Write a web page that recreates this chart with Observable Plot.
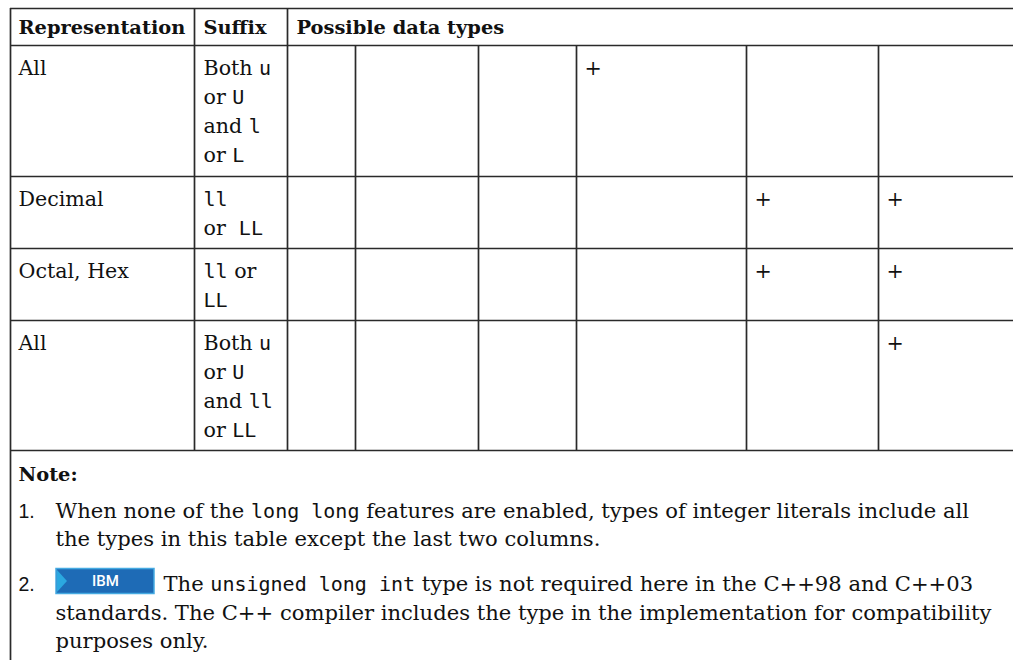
<!DOCTYPE html>
<html><head><meta charset="utf-8">
<script src="https://cdn.jsdelivr.net/npm/d3@7"></script>
<script src="https://cdn.jsdelivr.net/npm/@observablehq/plot@0.6"></script>
<style>body{margin:0;background:#fff}</style>
</head><body><div id="chart"></div>
<script>
// ---------- data ----------
const headers = ["Representation", "Suffix", "Possible data types"];
const representations = ["All", "Decimal", "Octal, Hex", "All"];
// backticks mark monospace code
const suffixes = [
  ["Both `u`", "or `U`", "and `l`", "or `L`"],
  ["`ll`", "or  `LL`"],
  ["`ll` or", "`LL`"],
  ["Both `u`", "or `U`", "and `ll`", "or `LL`"]
];
const typeColumnCount = 6;
const plusColumns = [[3], [4, 5], [4, 5], [5]];
const plusSymbol = "+";
const noteTitle = "Note:";
const noteNumbers = ["1.", "2."];
const badgeLabel = "IBM";
const noteLines = [
  ["When none of the `long long` features are enabled, types of integer literals include all",
   "the types in this table except the last two columns."],
  ["[badge]The `unsigned long int` type is not required here in the C++98 and C++03",
   "standards. The C++ compiler includes the type in the implementation for compatibility",
   "purposes only."]
];

// ---------- layout ----------
const W = 1013, H = 660;
const colEdges = [10, 194, 287, 355, 478, 576, 746, 878];
const rowEdges = [8, 45, 176, 248, 320, 450];
const FS_CELL = 20.6, FS_NOTE = 21.1, FS_HEAD = 19.4, FS_MONO = 20;
const LINE = 29, PAD = 8;
const SERIF = "DejaVu Serif", MONO = "DejaVu Sans Mono", SANS = "Liberation Sans";
const INK = "#111", RULE = "#2a2a2a";

const ctx = document.createElement("canvas").getContext("2d");
function measure(t, fam, wt, size) { ctx.font = `${wt} ${size}px "${fam}"`; return ctx.measureText(t).width; }

const segs = [];
function addRich(str, x0, y, size, weight = "normal") {
  let x = x0;
  str.split("`").forEach((part, i) => {
    const fam = i % 2 ? MONO : SERIF;
    const sz = i % 2 ? FS_MONO : size;
    const lead = part.match(/^\s*/)[0];
    x += measure(lead, fam, weight, sz);
    const body = part.slice(lead.length);
    if (body) segs.push({text: body, x, y, fam, weight, size: sz});
    x += measure(body, fam, weight, sz);
  });
  return x;
}

// header
const headerBase = rowEdges[0] + 25;
headers.forEach((h, i) => addRich(h, colEdges[i] + PAD + (i ? 1 : 0), headerBase, FS_HEAD, "bold"));

// body rows
representations.forEach((rep, r) => {
  const top = rowEdges[r + 1];
  addRich(rep, colEdges[0] + PAD, top + LINE, FS_CELL);
  suffixes[r].forEach((ln, k) => addRich(ln, colEdges[1] + PAD + 1, top + LINE + k * LINE, FS_CELL));
  plusColumns[r].forEach(c => addRich(plusSymbol, colEdges[2 + c] + PAD, top + LINE, FS_CELL));
});

// notes
const noteTop = rowEdges[rowEdges.length - 1];
addRich(noteTitle, colEdges[0] + PAD, noteTop + 30, FS_HEAD, "bold");
const numbers = [];
const badges = [];
let base = noteTop + 67;
noteLines.forEach((lines, i) => {
  numbers.push({text: noteNumbers[i], x: colEdges[0] + PAD, y: base});
  lines.forEach((ln, k) => {
    let x = colEdges[0] + 45;
    if (ln.startsWith("[badge]")) {
      badges.push({x1: x + 1, x2: x + 99, y1: base - 22, y2: base + 3, label: badgeLabel});
      x += 108;
      ln = ln.slice(7);
    }
    addRich(ln, x, base, FS_NOTE);
    base += 28.5;
  });
  base += 16.5;
});

// rules
const hLines = rowEdges.map(y => ({y, x1: colEdges[0], x2: W}));
const vLines = colEdges.map((x, i) => ({
  x, y1: i < 3 ? rowEdges[0] : rowEdges[1], y2: i === 0 ? H : noteTop
}));

const textMarks = d3.groups(segs, d => d.fam + "|" + d.weight + "|" + d.size).map(([, g]) =>
  Plot.text(g, {x: "x", y: "y", text: "text", textAnchor: "start", lineAnchor: "bottom",
    fontFamily: g[0].fam, fontWeight: g[0].weight, fontSize: g[0].size, fill: INK}));

const tri = badges.flatMap(b => [
  {x: b.x1 + 1, y1: b.y1 + 1.5, y2: b.y2 - 1.5},
  {x: b.x1 + 11, y1: (b.y1 + b.y2) / 2, y2: (b.y1 + b.y2) / 2}
]);

const chart = Plot.plot({
  width: W, height: H, margin: 0,
  x: {type: "identity", axis: null},
  y: {type: "identity", axis: null},
  style: {background: "#fff"},
  marks: [
    Plot.ruleY(hLines, {y: "y", x1: "x1", x2: "x2", stroke: RULE, strokeWidth: 1.7}),
    Plot.ruleX(vLines, {x: "x", y1: "y1", y2: "y2", stroke: RULE, strokeWidth: 1.7}),
    ...textMarks,
    Plot.text(numbers, {x: "x", y: "y", text: "text", textAnchor: "start", lineAnchor: "bottom",
      fontFamily: SANS, fontSize: 19.5, fill: INK}),
    Plot.rect(badges, {x1: "x1", x2: "x2", y1: "y1", y2: "y2", fill: "#1e6bb6", stroke: "#45aae2", strokeWidth: 1.5}),
    Plot.area(tri, {x1: "x", y1: "y1", y2: "y2", fill: "#2ba8e0", curve: "linear"}),
    Plot.text(badges, {x: d => (d.x1 + d.x2) / 2 + 0, y: d => (d.y1 + d.y2) / 2, text: "label",
      fontFamily: "Roboto", fontWeight: 500, fontSize: 15, fill: "#fff"})
  ]
});
document.getElementById("chart").appendChild(chart);
</script>
</body></html>
